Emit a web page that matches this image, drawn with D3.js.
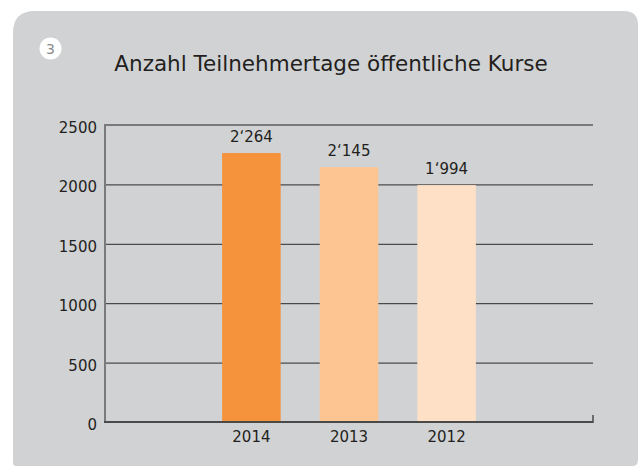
<!DOCTYPE html>
<html><head><meta charset="utf-8">
<script src="https://cdn.jsdelivr.net/npm/d3@7"></script>
<style>body{margin:0;background:#fff}svg{display:block}text{font-family:"DejaVu Sans",Verdana,sans-serif}</style>
</head><body><svg id="c" width="643" height="468"></svg>
<script>
const categories = ["2014", "2013", "2012"];
const values = [2264, 2145, 1994];
const valueLabels = ["2‘264", "2‘145", "1‘994"];
const barColors = ["#f5923c", "#fdc592", "#fde0c5"];
const yTicks = [0, 500, 1000, 1500, 2000, 2500];
const title = "Anzahl Teilnehmertage öffentliche Kurse";
const badge = "3";

const svg = d3.select("#c");
const L = 13, T = 11, R = 638, B = 466, rtl = 22, rtr = 14, rbr = 6, rbl = 3;
svg.append("path")
  .attr("d", `M${L+rtl},${T} H${R-rtr} Q${R},${T} ${R},${T+rtr} V${B-rbr} Q${R},${B} ${R-rbr},${B} H${L+rbl} Q${L},${B} ${L},${B-rbl} V${T+rtl} Q${L},${T} ${L+rtl},${T} Z`)
  .attr("fill", "#d1d2d4");

svg.append("circle").attr("cx", 50.5).attr("cy", 48.5).attr("r", 11).attr("fill", "#fff");
svg.append("text").attr("x", 50.5).attr("y", 54).attr("text-anchor", "middle")
  .attr("font-size", 14).attr("fill", "#8a8a8a").text(badge);

svg.append("text").attr("x", 331).attr("y", 71).attr("text-anchor", "middle")
  .attr("font-size", 21.5).attr("fill", "#231f20").text(title);

const x0 = 105, x1 = 593, yB = 422, yT = 125;
const x = d3.scaleBand().domain(categories).range([x0, x1]).paddingInner(0.4).paddingOuter(1.2);
const y = d3.scaleLinear().domain([0, 2500]).range([yB, yT]);

const g = svg.append("g");
g.selectAll("line.grid").data(yTicks.filter(t => t > 0 && t < 2500)).join("line")
  .attr("x1", x0).attr("x2", x1).attr("y1", d => y(d) + 0.5).attr("y2", d => y(d) + 0.5)
  .attr("stroke", "#2b2b2b").attr("stroke-width", 1);
g.append("line").attr("x1", x0).attr("x2", x1).attr("y1", y(2500)).attr("y2", y(2500))
  .attr("stroke", "#7a7a7a").attr("stroke-width", 2);

svg.selectAll("rect.bar").data(values).join("rect")
  .attr("x", (d, i) => x(categories[i])).attr("width", x.bandwidth())
  .attr("y", d => y(d)).attr("height", d => yB - y(d))
  .attr("fill", (d, i) => barColors[i]);

svg.selectAll("text.val").data(values).join("text")
  .attr("x", (d, i) => x(categories[i]) + x.bandwidth() / 2)
  .attr("y", d => y(d) - 11).attr("text-anchor", "middle")
  .attr("font-size", 15).attr("fill", "#231f20").text((d, i) => valueLabels[i]);

svg.append("line").attr("x1", x0).attr("x2", x0).attr("y1", yT - 1).attr("y2", yB + 1)
  .attr("stroke", "#7a7a7a").attr("stroke-width", 2);
svg.append("line").attr("x1", x0 - 1).attr("x2", x1).attr("y1", yB).attr("y2", yB)
  .attr("stroke", "#4a4a4a").attr("stroke-width", 2);
svg.append("line").attr("x1", x1).attr("x2", x1).attr("y1", yB - 7).attr("y2", yB + 1)
  .attr("stroke", "#4a4a4a").attr("stroke-width", 1.5);

const yAxis = d3.axisLeft(y).tickValues(yTicks).tickSize(0).tickPadding(8).tickFormat(d3.format("d"));
const ya = svg.append("g").attr("transform", `translate(${x0},0)`).call(yAxis);
ya.select(".domain").remove();
ya.selectAll("text").attr("font-size", 15).attr("fill", "#231f20")
  .attr("font-family", '"DejaVu Sans",Verdana,sans-serif').attr("dy", "0.5em");

const xAxis = d3.axisBottom(x).tickSize(0).tickPadding(9);
const xa = svg.append("g").attr("transform", `translate(0,${yB})`).call(xAxis);
xa.select(".domain").remove();
xa.selectAll("text").attr("font-size", 15).attr("fill", "#231f20")
  .attr("font-family", '"DejaVu Sans",Verdana,sans-serif');
</script></body></html>
